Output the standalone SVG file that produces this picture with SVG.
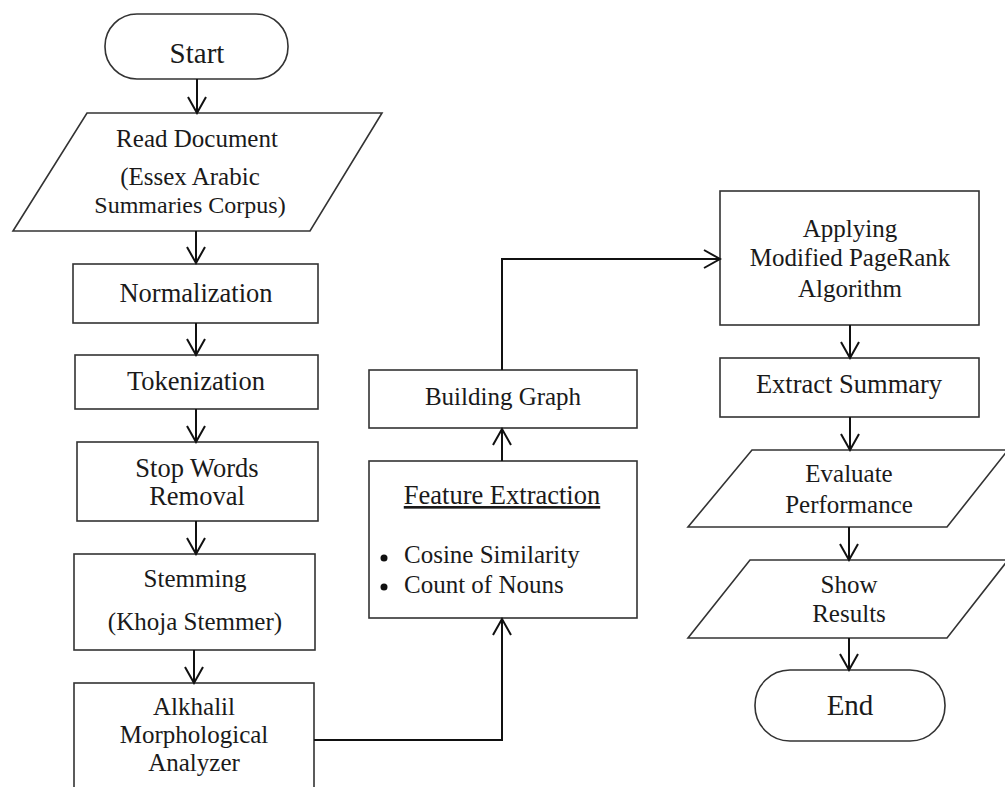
<svg xmlns="http://www.w3.org/2000/svg" width="1005" height="787" viewBox="0 0 1005 787">
<defs>
<marker id="arr" markerUnits="userSpaceOnUse" markerWidth="20" markerHeight="22" viewBox="-18 -11 20 22" refX="0" refY="0" orient="auto">
<path d="M-16,-9 L0,0 L-16,9" fill="none" stroke="#111" stroke-width="2"/>
</marker>
</defs>
<style>
.shape{fill:#fff;stroke:#333;stroke-width:1.6}
.t{font-family:"Liberation Serif","DejaVu Serif",serif;font-size:25px;fill:#1a1a1a;text-anchor:middle}
.l{font-family:"Liberation Serif","DejaVu Serif",serif;font-size:25px;fill:#1a1a1a}
.big{font-size:29px}
.c{fill:none;stroke:#111;stroke-width:2;marker-end:url(#arr)}
</style>
<rect width="1005" height="787" fill="#fff"/>
<g id="start"><rect class="shape" x="105" y="14" width="183" height="65" rx="32" ry="32"/><text class="t big" x="197" y="63">Start</text></g>
<g id="read"><polygon class="shape" points="87,113 382,113 310,231 13,231"/><text class="t" x="197" y="147">Read Document</text><text class="t" x="190" y="185">(Essex Arabic</text><text class="t" x="190" y="213" style="font-size:24px">Summaries Corpus)</text></g>
<g id="normalization"><rect class="shape" x="73" y="264" width="245" height="59"/><text class="t" x="196" y="302" style="font-size:26.5px">Normalization</text></g>
<g id="tokenization"><rect class="shape" x="75" y="355" width="243" height="54"/><text class="t" x="196" y="390" style="font-size:26.5px">Tokenization</text></g>
<g id="stopwords"><rect class="shape" x="77" y="442" width="241" height="79"/><text class="t" x="197" y="477" style="font-size:26.5px">Stop Words</text><text class="t" x="197" y="505" style="font-size:26.5px">Removal</text></g>
<g id="stemming"><rect class="shape" x="74" y="554" width="241" height="96"/><text class="t" x="195" y="587">Stemming</text><text class="t" x="195" y="630">(Khoja Stemmer)</text></g>
<g id="alkhalil"><rect class="shape" x="74" y="683" width="240" height="120"/><text class="t" x="194" y="715">Alkhalil</text><text class="t" x="194" y="743">Morphological</text><text class="t" x="194" y="771">Analyzer</text></g>
<g id="feature"><rect class="shape" x="369" y="461" width="268" height="157"/><text class="t" x="502" y="504" text-decoration="underline" style="font-size:26.5px">Feature Extraction</text><circle cx="384" cy="558" r="3.5" fill="#111"/><circle cx="384" cy="587" r="3.5" fill="#111"/><text class="l" x="404" y="563">Cosine Similarity</text><text class="l" x="404" y="593">Count of Nouns</text></g>
<g id="building"><rect class="shape" x="369" y="370" width="268" height="58"/><text class="t" x="503" y="405">Building Graph</text></g>
<g id="pagerank"><rect class="shape" x="720" y="191" width="259" height="134"/><text class="t" x="850" y="237">Applying</text><text class="t" x="850" y="266">Modified PageRank</text><text class="t" x="850" y="297">Algorithm</text></g>
<g id="extract"><rect class="shape" x="720" y="358" width="259" height="59"/><text class="t" x="849" y="393" style="font-size:26.5px">Extract Summary</text></g>
<g id="evaluate"><polygon class="shape" points="752,450 1008,450 947,527 688,527"/><text class="t" x="849" y="482">Evaluate</text><text class="t" x="849" y="513">Performance</text></g>
<g id="show"><polygon class="shape" points="750,560 1008,560 947,638 688,638"/><text class="t" x="849" y="593">Show</text><text class="t" x="849" y="622">Results</text></g>
<g id="end"><rect class="shape" x="755" y="670" width="190" height="71" rx="35" ry="35"/><text class="t big" x="850" y="715">End</text></g>
<g id="connectors">
<path class="c" d="M197,79 V113"/>
<path class="c" d="M196,231 V263"/>
<path class="c" d="M196,323 V355"/>
<path class="c" d="M196,409 V442"/>
<path class="c" d="M196,521 V554"/>
<path class="c" d="M194,650 V683"/>
<path class="c" d="M314,740 H502 V619"/>
<path class="c" d="M502,461 V429"/>
<path class="c" d="M502,370 V259 H720"/>
<path class="c" d="M850,325 V358"/>
<path class="c" d="M850,417 V450"/>
<path class="c" d="M849,527 V560"/>
<path class="c" d="M849,638 V670"/>
</g>
</svg>
